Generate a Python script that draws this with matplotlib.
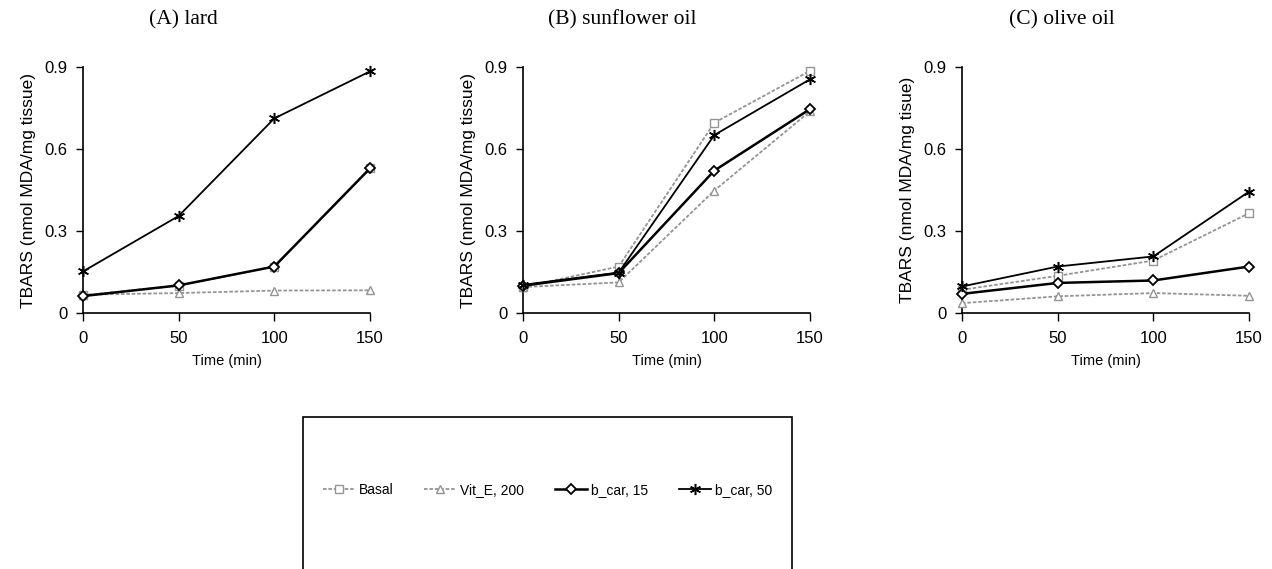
import matplotlib.pyplot as plt
from matplotlib.patches import Rectangle
from matplotlib.lines import Line2D

time = [0, 50, 100, 150]
panels = ["(A) lard", "(B) sunflower oil", "(C) olive oil"]
ylabels = ["TBARS (nmol MDA/mg tissue)", "TBARS (nmol MDA/mg tissue)", "TBARS (nmol MDA/mg tisue)"]
series = ["Basal", "Vit_E, 200", "b_car, 15", "b_car, 50"]

# TBARS values per panel, one list per series
lard_basal = [0.065, 0.100, 0.170, 0.530]
lard_vite = [0.067, 0.073, 0.082, 0.083]
lard_bcar15 = [0.062, 0.101, 0.170, 0.529]
lard_bcar50 = [0.152, 0.355, 0.712, 0.884]

sun_basal = [0.095, 0.170, 0.696, 0.886]
sun_vite = [0.095, 0.112, 0.448, 0.738]
sun_bcar15 = [0.100, 0.146, 0.521, 0.746]
sun_bcar50 = [0.103, 0.148, 0.651, 0.855]

olive_basal = [0.085, 0.136, 0.192, 0.365]
olive_vite = [0.036, 0.061, 0.073, 0.063]
olive_bcar15 = [0.070, 0.110, 0.119, 0.170]
olive_bcar50 = [0.097, 0.170, 0.207, 0.444]

data = [
    [lard_basal, lard_vite, lard_bcar15, lard_bcar50],
    [sun_basal, sun_vite, sun_bcar15, sun_bcar50],
    [olive_basal, olive_vite, olive_bcar15, olive_bcar50],
]

gray = "#949494"
styles = [
    dict(color=gray, ls=(0, (2, 1)), lw=1.3, marker="s", ms=6, mfc="white", mec=gray),
    dict(color=gray, ls=(0, (2, 1)), lw=1.3, marker="^", ms=6, mfc="white", mec=gray),
    dict(color="black", ls="-", lw=1.8, marker="D", ms=5.5, mfc="white", mec="black", mew=1.3),
    dict(color="black", ls="-", lw=1.3, marker=(6, 2, 0), ms=8, mec="black", mew=1.1),
]

sans = ["Liberation Sans", "DejaVu Sans"]
serif = ["Liberation Serif", "DejaVu Serif"]

W, H = 1272, 569
fig = plt.figure(figsize=(W / 100, H / 100), dpi=100)

lefts = [83, 523, 962]
title_x = [183, 622, 1062]
for i in range(3):
    ax = fig.add_axes([lefts[i] / W, 1 - 313 / H, 287 / W, 246 / H])
    for s in range(4):
        ax.plot(time, data[i][s], clip_on=False, zorder=3 + s, **styles[s])
    ax.set_xlim(0, 150)
    ax.set_ylim(0, 0.9)
    ax.set_xticks(time)
    ax.set_yticks([0, 0.3, 0.6, 0.9])
    ax.set_yticklabels(["0", "0.3", "0.6", "0.9"])
    for lab in ax.get_xticklabels() + ax.get_yticklabels():
        lab.set_family(sans)
        lab.set_fontsize(12)
    ax.tick_params(axis="x", direction="out", length=6, width=1, pad=7)
    ax.tick_params(axis="y", direction="out", length=5, width=1, pad=6)
    ax.spines["top"].set_visible(False)
    ax.spines["right"].set_visible(False)
    ax.spines["left"].set_linewidth(1.2)
    ax.spines["bottom"].set_linewidth(1.2)
    ax.set_xlabel("Time (min)", family=sans, fontsize=10.5, labelpad=6)
    ax.set_ylabel(ylabels[i], family=sans, fontsize=12.5)
    ax.yaxis.set_label_coords(-0.165, 0.5)
    fig.text(title_x[i] / W, 1 - 20 / H, panels[i], family=serif, fontsize=15.5,
             ha="center", va="center")

# legend box
fig.patches.append(Rectangle((303 / W, -0.02), 489 / W, (569 - 417) / H + 0.02,
                             transform=fig.transFigure, fill=False,
                             edgecolor="black", lw=1.2))
handles = [Line2D([], [], **styles[s]) for s in range(4)]
fig.legend(handles, series, loc="center", bbox_to_anchor=(547.5 / W, 1 - 490 / H),
           ncol=4, frameon=False, handlelength=2.3, handletextpad=0.3,
           columnspacing=2.2, prop={"family": sans, "size": 10})

fig.savefig("out.png", dpi=100)
